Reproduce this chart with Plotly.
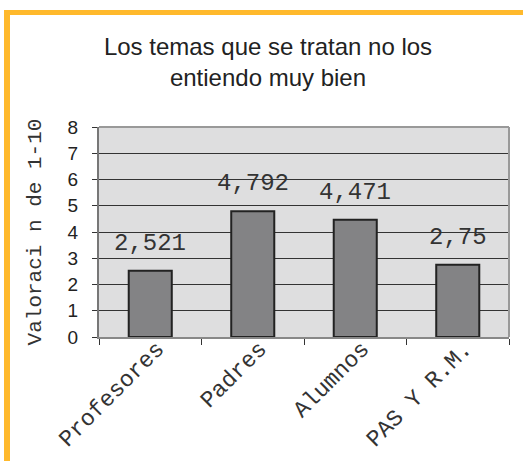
import plotly.graph_objects as go

categories = ["Profesores", "Padres", "Alumnos", "PAS Y R.M."]
values = [2.521, 4.792, 4.471, 2.75]
value_labels = ["2,521", "4,792", "4,471", "2,75"]
y_ticks = [0, 1, 2, 3, 4, 5, 6, 7, 8]

W, H = 523, 461
L, R, T, B = 99, 14, 127, 124
pw, ph = W - L - R, H - T - B

def px_x(x):
    return (x - L) / pw

def px_y(y):
    return (H - B - y) / ph

mono = "Liberation Mono, Courier New, monospace"
sans = "Liberation Sans, Arial, sans-serif"

fig = go.Figure()
fig.add_trace(go.Bar(
    x=categories, y=values, width=0.42,
    marker=dict(color="#838385", line=dict(color="#222222", width=2)),
    hoverinfo="skip", showlegend=False,
))

for c, v, t in zip(categories, values, value_labels):
    fig.add_annotation(x=c, y=v, text=t, showarrow=False, yanchor="bottom",
                       yshift=12, font=dict(family=mono, size=24, color="#333333"))

# orange frame
fig.add_shape(type="rect", xref="paper", yref="paper",
              x0=px_x(4), x1=px_x(W + 5), y0=px_y(15), y1=px_y(10),
              fillcolor="#FFB92C", line=dict(width=0), layer="above")
fig.add_shape(type="rect", xref="paper", yref="paper",
              x0=px_x(4), x1=px_x(10), y0=px_y(H + 5), y1=px_y(10),
              fillcolor="#FFB92C", line=dict(width=0), layer="above")
# plot-area top & right border
fig.add_shape(type="line", xref="paper", yref="paper", x0=0, x1=1, y0=1, y1=1,
              line=dict(color="#999999", width=2))
fig.add_shape(type="line", xref="paper", yref="paper", x0=1, x1=1, y0=0, y1=1,
              line=dict(color="#999999", width=2))

fig.update_layout(
    width=W, height=H,
    margin=dict(l=L, r=R, t=T, b=B, autoexpand=False),
    paper_bgcolor="white", plot_bgcolor="#DEDEDF",
    title=dict(text="Los temas que se tratan no los<br>entiendo muy bien",
               x=268 / W, xref="container", xanchor="center",
               y=1 - 55 / H, yref="container", yanchor="top",
               font=dict(family=sans, size=24, color="#222222")),
    bargap=0.58,
    xaxis=dict(
        type="category", tickson="boundaries", ticks="outside", ticklen=6,
        tickcolor="#333333", tickwidth=1, automargin=False,
        showline=True, linecolor="#888888", linewidth=2,
        tickangle=-45, tickfont=dict(family=mono, size=23, color="#333333"),
        ticklabelstandoff=-13, ticklabelshift=7,
        showgrid=False,
    ),
    yaxis=dict(
        range=[0, 8], tickvals=y_ticks, ticks="outside", ticklen=5,
        tickcolor="#333333", tickwidth=1, automargin=False,
        showline=True, linecolor="#777777", linewidth=2,
        showgrid=True, gridcolor="#333333", gridwidth=1,
        zeroline=False, ticklabelstandoff=10,
        tickfont=dict(family=sans, size=19, color="#222222"),
        title=dict(text="Valoraci n de 1-10", standoff=20,
                   font=dict(family=mono, size=21, color="#333333")),
    ),
)

fig.write_html("out.html", config={"displayModeBar": False},
               post_script="document.body.style.margin='0px';document.body.style.overflow='hidden';")
